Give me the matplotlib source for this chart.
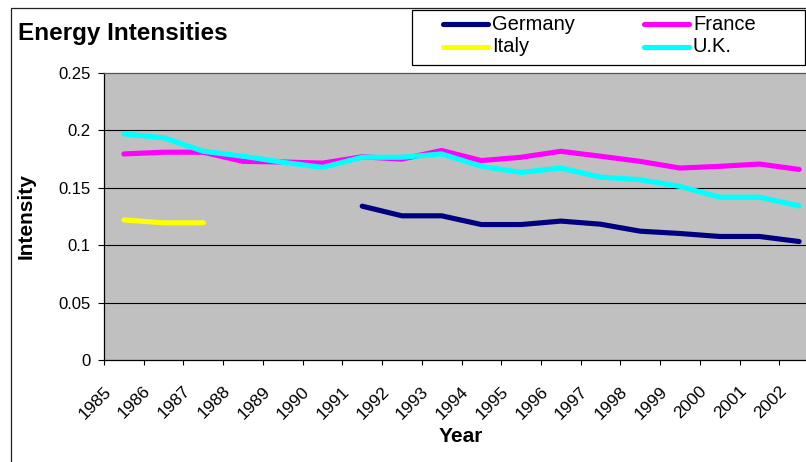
import numpy as np
import matplotlib
matplotlib.use("Agg")
import matplotlib.pyplot as plt
from matplotlib.lines import Line2D
from matplotlib.patches import Rectangle
from matplotlib.ticker import FixedLocator, NullFormatter
import matplotlib.transforms as mtransforms

plt.rcParams['font.family'] = ['Liberation Sans', 'DejaVu Sans']

nan = np.nan
years = [str(y) for y in range(1985, 2003)]
germany = [nan, nan, nan, nan, nan, nan,
           0.134, 0.1256, 0.1256, 0.118, 0.118, 0.121,
           0.1183, 0.1122, 0.1102, 0.1076, 0.1076, 0.1032]
france = [0.1795, 0.181, 0.181, 0.173, 0.1725, 0.1715, 0.177, 0.175, 0.1825,
          0.1737, 0.1766, 0.1818, 0.1775, 0.173, 0.1672, 0.1687, 0.1707, 0.166]
italy = [0.122, 0.1195, 0.1195, nan, nan, nan, nan, nan, nan,
         nan, nan, nan, nan, nan, nan, nan, nan, nan]
uk = [0.197, 0.1936, 0.1818, 0.1775, 0.1722, 0.1678, 0.1766, 0.1766, 0.1795,
      0.1687, 0.1634, 0.1672, 0.1593, 0.157, 0.1512, 0.1418, 0.1418, 0.1342]

series_names = ["Germany", "France", "Italy", "U.K."]
series_values = [germany, france, italy, uk]
series_colors = ["#000080", "#FF00FF", "#FFFF00", "#00FFFF"]
y_ticks = [0, 0.05, 0.1, 0.15, 0.2, 0.25]
y_tick_labels = ["0", "0.05", "0.1", "0.15", "0.2", "0.25"]

W, H = 806, 462
fig = plt.figure(figsize=(W / 100, H / 100), dpi=100)
fig.patch.set_facecolor("white")

def fx(px):
    return px / W

def fy(py):
    return 1 - py / H

# outer chart border
fig.add_artist(Rectangle((fx(11), -0.05), 1.1, fy(8) + 0.05, transform=fig.transFigure,
                         facecolor="none", edgecolor="#222222", lw=0.9, zorder=0))

left, right, top, bottom = 104, 819, 73, 360
ax = fig.add_axes([fx(left), fy(bottom), (right - left) / W, (bottom - top) / H])
ax.set_facecolor("#C0C0C0")

x = np.arange(len(years)) + 0.5
for name, vals, col in zip(series_names, series_values, series_colors):
    ax.plot(x, vals, color=col, lw=3.7, solid_capstyle="round",
            solid_joinstyle="round", label=name, zorder=3)

ax.set_xlim(0, len(years))
ax.set_ylim(0, 0.25)

# gridlines
for yv in y_ticks[1:-1]:
    ax.axhline(yv, color="black", lw=0.8, zorder=1)

ax.set_yticks(y_ticks)
ax.set_yticklabels(y_tick_labels)
ax.tick_params(axis="y", direction="out", length=4.5, width=0.8, pad=5,
               labelsize=12, colors="black")

ax.set_xticks(x)
ax.set_xticklabels(years, rotation=45, ha="right", va="top")
ax.xaxis.set_minor_locator(FixedLocator(np.arange(len(years) + 1)))
ax.xaxis.set_minor_formatter(NullFormatter())
ax.tick_params(axis="x", which="major", length=0, pad=17, labelsize=12.5)
ax.tick_params(axis="x", which="minor", direction="out", length=3.5, width=0.8)
offset = mtransforms.ScaledTranslation(-10 / 100, 0, fig.dpi_scale_trans)
for lab in ax.get_xticklabels():
    lab.set_transform(lab.get_transform() + offset)

for s in ["left", "bottom"]:
    ax.spines[s].set_color("black")
    ax.spines[s].set_linewidth(0.9)
ax.spines["top"].set_color("#555555")
ax.spines["top"].set_linewidth(0.9)
ax.spines["right"].set_visible(False)

ax.set_ylabel("Intensity", fontsize=15, fontweight="bold")
ax.yaxis.set_label_coords((36 - left) / (right - left), 0.5)
ax.set_xlabel("Year", fontsize=15, fontweight="bold")
ax.xaxis.set_label_coords((461 - left) / (right - left), -(437 - bottom) / (bottom - top))
ax.xaxis.label.set_va("center")

# title
fig.text(fx(18), fy(40), "Energy Intensities", fontsize=17.5, fontweight="bold",
         ha="left", va="baseline")

# legend box
fig.add_artist(Rectangle((fx(412), fy(65)), (805 - 412) / W, 55 / H,
                         transform=fig.transFigure, facecolor="white",
                         edgecolor="black", lw=0.9, zorder=5))
legend_cols = [443, 644]
legend_rows = [24, 46.5]
order = [0, 2, 1, 3]
for k, idx in enumerate(order):
    cx = legend_cols[k // 2]
    cy = legend_rows[k % 2]
    fig.add_artist(Line2D([fx(cx), fx(cx + 45)], [fy(cy), fy(cy)],
                          transform=fig.transFigure, color=series_colors[idx],
                          lw=3.7, solid_capstyle="round", zorder=6))
    fig.text(fx(cx + 49), fy(cy), series_names[idx], fontsize=14.5,
             ha="left", va="center", zorder=6)

fig.savefig("out.png", dpi=100)
